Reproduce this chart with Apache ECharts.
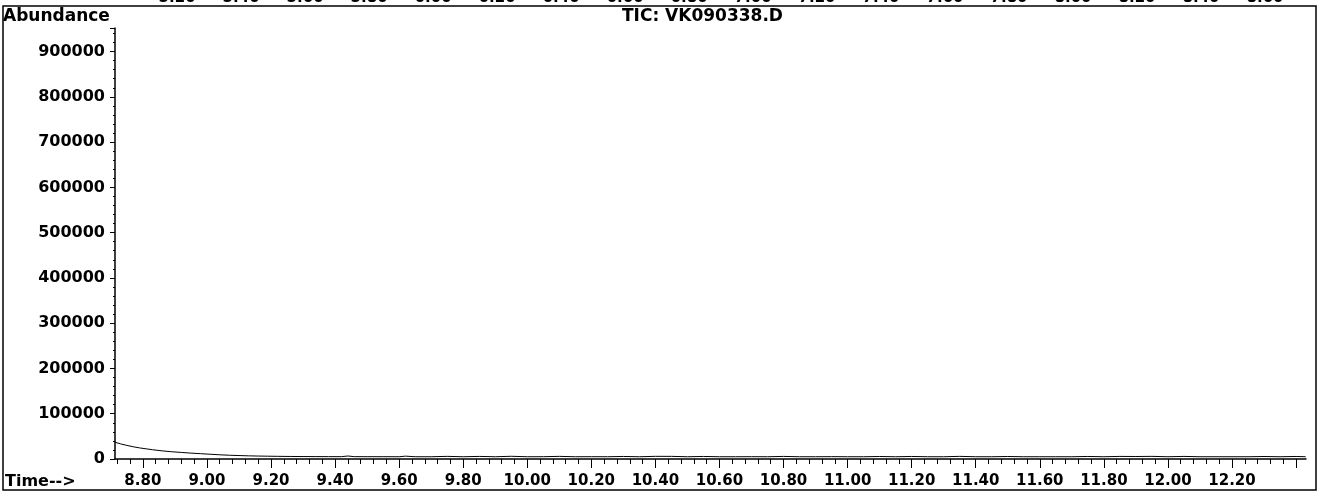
<!DOCTYPE html>
<html><head><meta charset="utf-8">
<script src="https://cdn.jsdelivr.net/npm/echarts@6/dist/echarts.min.js"></script>
<style>html,body{margin:0;padding:0;background:#fff}#c{width:1320px;height:493px}</style>
</head><body><div id="c"></div>
<script>
// ---- data ----
const times = [8.713, 8.73, 8.75, 8.77, 8.79, 8.81, 8.83, 8.86, 8.89, 8.92, 8.95, 8.98, 9.01, 9.04, 9.07, 9.10, 9.13, 9.16, 9.19, 9.22, 9.26, 9.30, 9.34, 9.38, 9.42, 9.44, 9.46, 9.50, 9.55, 9.60, 9.62, 9.65, 9.70, 9.75, 9.80, 9.85, 9.90, 9.95, 10.00, 10.05, 10.10, 10.15, 10.20, 10.25, 10.30, 10.35, 10.40, 10.45, 10.50, 10.55, 10.60, 10.65, 10.70, 10.75, 10.80, 10.85, 10.90, 10.95, 11.00, 11.05, 11.10, 11.15, 11.20, 11.25, 11.30, 11.35, 11.40, 11.45, 11.50, 11.55, 11.60, 11.65, 11.70, 11.75, 11.80, 11.85, 11.90, 11.95, 12.00, 12.05, 12.10, 12.15, 12.20, 12.25, 12.30, 12.35, 12.40, 12.43];
const abundance = [37000, 33500, 30000, 27000, 24500, 22500, 20500, 18000, 16000, 14500, 13000, 11800, 10500, 9300, 8300, 7600, 7000, 6500, 6200, 5900, 5600, 5400, 5300, 5200, 5200, 6600, 5200, 5100, 5100, 5000, 6300, 5000, 5000, 5800, 5000, 5700, 5000, 6000, 5000, 5100, 5800, 5000, 5100, 5000, 5600, 5000, 5900, 5800, 5000, 5600, 5000, 5000, 5100, 5000, 5700, 5000, 5000, 5200, 5000, 5000, 5500, 5000, 5600, 5000, 5000, 5800, 5000, 5000, 5500, 5000, 5000, 5000, 5000, 5600, 5000, 5700, 5500, 5800, 5000, 5700, 5000, 5000, 5000, 5000, 5500, 5000, 5600, 5000];
const xTickLabels = ['8.80','9.00','9.20','9.40','9.60','9.80','10.00','10.20','10.40','10.60','10.80','11.00','11.20','11.40','11.60','11.80','12.00','12.20'];
const xMajorTicks = [8.8, 9.0, 9.2, 9.4, 9.6, 9.8, 10.0, 10.2, 10.4, 10.6, 10.8, 11.0, 11.2, 11.4, 11.6, 11.8, 12.0, 12.2, 12.4];
const yTickLabels = ['0','100000','200000','300000','400000','500000','600000','700000','800000','900000'];
const prevChartTickLabels = ['5.20','5.40','5.60','5.80','6.00','6.20','6.40','6.60','6.80','7.00','7.20','7.40','7.60','7.80','8.00','8.20','8.40','8.60'];
const chartTitle = 'TIC: VK090338.D';
const yName = 'Abundance';
const xName = 'Time-->';

// ---- chart ----
const X_MIN = 8.713, X_MAX = 12.431;
const minorTicks = [];
for (let v = 8.72; v <= 12.41; v += 0.04) minorTicks.push(Math.round(v * 100) / 100);

const FONT = 'DejaVu Sans';
const chart = echarts.init(document.getElementById('c'), null, {renderer: 'canvas'});
chart.setOption({
  animation: false,
  backgroundColor: '#fff',
  title: [
    {text: yName, left: 3, top: 8, padding: 0, textStyle: {fontFamily: FONT, fontWeight: 'bold', fontSize: 17, color: '#000'}},
    {text: chartTitle, left: 622, top: 8, padding: 0, textStyle: {fontFamily: FONT, fontWeight: 'bold', fontSize: 17, color: '#000'}}
  ],
  graphic: [
    {type: 'rect', shape: {x: 3, y: 6, width: 1313, height: 484}, style: {fill: 'none', stroke: '#000', lineWidth: 1.5}, silent: true},
    {type: 'text', left: 5, top: 474, style: {text: xName, fontFamily: FONT, fontWeight: 'bold', fontSize: 16, fill: '#000'}}
  ],
  grid: [
    {left: 115, right: 14, top: 28, bottom: 34},
    {left: 115, right: 14, top: -48, height: 30}
  ],
  xAxis: [
    {
      type: 'value', gridIndex: 0, min: X_MIN, max: X_MAX, position: 'bottom',
      axisLine: {show: true, onZero: false, lineStyle: {color: '#000', width: 1.5}},
      axisTick: {show: true, customValues: xMajorTicks, length: 9, lineStyle: {color: '#000', width: 1}},
      axisLabel: {show: true, customValues: xTickLabels.map(Number), formatter: v => v.toFixed(2), margin: 15,
        fontFamily: FONT, fontWeight: 'bold', fontSize: 15, color: '#000'},
      splitLine: {show: false}
    },
    {
      type: 'value', gridIndex: 0, min: X_MIN, max: X_MAX, position: 'bottom',
      axisLine: {show: false},
      axisTick: {show: true, customValues: minorTicks, length: 5, lineStyle: {color: '#000', width: 1}},
      axisLabel: {show: false},
      splitLine: {show: false}
    },
    {
      type: 'value', gridIndex: 1, min: 5.006, max: 8.728, position: 'bottom',
      axisLine: {show: false}, axisTick: {show: false}, splitLine: {show: false},
      axisLabel: {show: true, customValues: prevChartTickLabels.map(Number), formatter: v => v.toFixed(2), margin: 1,
        fontFamily: FONT, fontWeight: 'bold', fontSize: 15, color: '#000'}
    }
  ],
  yAxis: [
    {
      type: 'value', gridIndex: 0, min: 0, max: 952000, interval: 100000,
      axisLine: {show: true, lineStyle: {color: '#000', width: 1.5}},
      axisTick: {show: true, length: 5, lineStyle: {color: '#000'}},
      minorTick: {show: true, splitNumber: 5, length: 2, lineStyle: {color: '#000'}},
      axisLabel: {show: true, showMaxLabel: false, margin: 10, fontFamily: FONT, fontWeight: 'bold', fontSize: 16, color: '#000',
        formatter: v => yTickLabels[Math.round(v / 100000)] ?? ''},
      splitLine: {show: false}
    },
    {type: 'value', gridIndex: 1, show: false}
  ],
  series: [{
    type: 'line', xAxisIndex: 0, yAxisIndex: 0,
    data: times.map((t, i) => [t, abundance[i]]),
    showSymbol: false, symbol: 'none', smooth: false,
    lineStyle: {color: '#000', width: 1}
  }]
});
</script></body></html>
